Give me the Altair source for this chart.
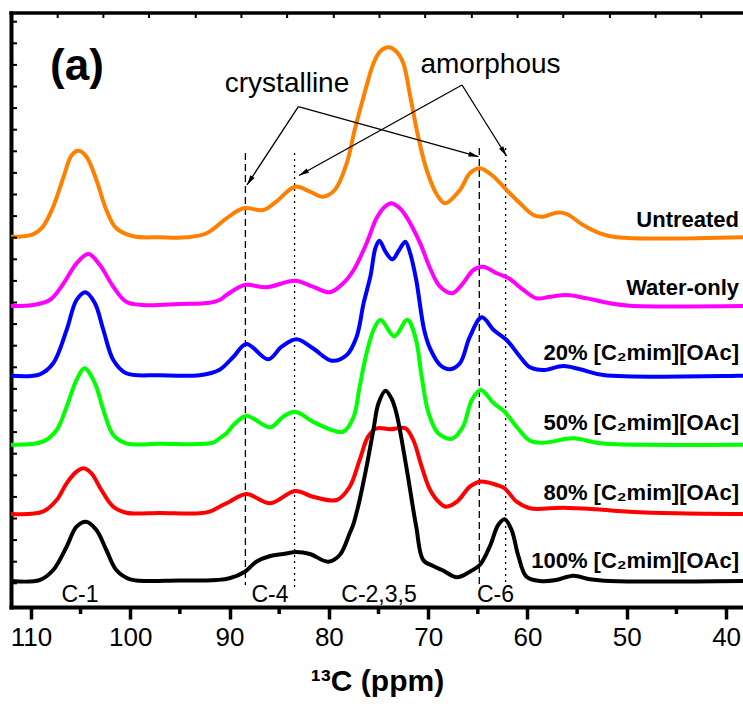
import math
import altair as alt
import pandas as pd

# ---------------- data ----------------
series_names = ["Untreated", "Water-only", "20% [C₂mim][OAc]",
                "50% [C₂mim][OAc]", "80% [C₂mim][OAc]", "100% [C₂mim][OAc]"]
series_colors = ["#FF8000", "#FF00FF", "#0000FF", "#00FF00", "#FF0000", "#000000"]
series_offsets = [369.7, 301.0, 231.3, 162.3, 93.0, 26.0]

untreated_ppm = [112.0, 109.8, 108.8, 107.75, 106.7, 105.9, 105.2, 104.4, 103.4, 102.4, 101.4, 99.7, 97.0,
                 94.3, 92.3, 90.3, 88.6, 86.6, 85.3, 83.4, 81.9, 80.6, 79.4, 78.2, 77.4, 76.5, 75.5, 74.86,
                 74.0, 73.18, 72.5, 71.8, 71.0, 70.15, 69.1, 68.3, 66.8, 65.8, 64.8, 63.6, 62.1, 60.75, 59.4,
                 58.4, 57.1, 56.05, 54.4, 52.7, 51.0, 38.3]
untreated_int = [0.5, 3, 10.6, 30.6, 60.6, 82, 86.6, 80.6, 57.3, 27.3, 9, 1, 0,
                 0, 4, 19, 29, 27.3, 35.6, 50.6, 45.6, 40.6, 47.3, 74, 107.3, 140.6, 174, 185.6,
                 190, 185.6, 174, 140.6, 100.6, 67.3, 42.3, 34, 47.3, 64, 69, 62.3, 47.3, 34, 22.3,
                 20.6, 24.6, 23.3, 12.3, 4, 0, 0]

water_ppm = [112.0, 109.8, 108.1, 106.7, 105.4, 104.2, 103.05, 101.7, 100.4, 98.7, 95.0, 92.0, 91.0, 90.3,
             88.45, 86.3, 83.4, 81.6, 79.9, 78.55, 77.5, 76.2, 75.2, 74.36, 73.7, 72.85, 72.2, 70.8, 69.8,
             68.8, 67.6, 66.5, 65.45, 64.45, 63.1, 61.9, 60.4, 59.1, 57.7, 56.05, 54.05, 51.7, 49.7, 38.3]
water_int = [0, 1, 6, 22.7, 42.7, 52, 41, 19.3, 4.3, 1, 2, 3.3, 6, 11,
             21, 18.7, 25.3, 19.3, 13.7, 22.7, 36, 62.7, 87.7, 99.3, 102.7, 97.7, 89.3, 62.7, 37.5,
             19.3, 12.7, 22.7, 36, 39.3, 32.7, 27.7, 16, 7.7, 9.3, 11, 7.7, 2.7, 0.3, 0]

il20_ppm = [112.0, 109.1, 107.75, 106.4, 105.4, 104.5, 103.55, 102.7, 101.7, 100.4, 97.0, 93.0, 91.0, 89.6,
            88.3, 86.1, 84.75, 83.25, 81.6, 79.7, 78.2, 77.2, 76.5, 75.8, 75.3, 74.9, 74.3, 73.6, 72.9,
            72.3, 71.8, 71.2, 70.4, 69.8, 68.8, 67.8, 66.8, 65.8, 64.6, 63.4, 62.1, 60.75, 59.75, 58.4,
            56.4, 54.7, 52.35, 38.3]
il20_int = [0, 1.4, 12.4, 45.7, 75.7, 83.4, 72.4, 45.7, 15.7, 2.4, 0.5, 0.5, 6, 19,
            31.7, 16.4, 29, 36.4, 27.4, 15, 20.7, 39, 72.4, 100, 128, 135, 124, 116.4, 126,
            134, 122, 95.7, 45.7, 27, 10.7, 6.4, 12.4, 39, 58.4, 45.7, 35.7, 19, 8.4, 5.7,
            9.7, 6.4, 0.7, 0]

il50_ppm = [112.0, 108.8, 107.4, 106.4, 105.4, 104.6, 103.55, 102.7, 101.7, 100.4, 97.0, 91.65, 91.0, 90.3,
            89.6, 88.3, 85.9, 84.6, 83.4, 81.6, 79.9, 78.55, 77.5, 76.9, 76.2, 75.5, 74.8, 73.4, 72.1,
            71.3, 70.65, 70.0, 69.0, 67.6, 66.5, 65.6, 64.7, 63.4, 62.3, 61.1, 59.75, 58.4, 55.4, 53.05,
            51.0, 38.3]
il50_int = [0, 3, 14.7, 38, 64.7, 76.4, 61.4, 34.7, 9.7, 1.4, 1, 2, 6.4, 11.4,
            19.7, 28.7, 17.4, 28, 33, 23, 15.4, 13, 28, 58, 91.4, 114.7, 125, 108.5, 125,
            108, 68, 33, 11.4, 6, 18, 44.7, 54.7, 41.4, 33, 18, 4, 2, 6.4, 2,
            0.4, 0]

il80_ppm = [112.0, 108.8, 107.4, 106.4, 105.4, 104.7, 103.9, 102.9, 101.7, 100.4, 97.0, 93.0, 92.0, 91.0,
            90.0, 88.3, 85.9, 83.4, 81.6, 79.2, 77.9, 76.9, 76.05, 75.2, 73.85, 72.3, 71.5, 70.65, 69.8,
            68.8, 68.2, 67.1, 65.8, 64.8, 63.1, 62.3, 61.1, 59.75, 56.4, 53.05, 49.7, 45.0, 38.3]
il80_int = [0, 2.3, 14, 30.7, 42.3, 45.7, 40.7, 24, 7.3, 1.3, 1, 0.7, 2.3, 7.3,
            12.3, 20, 10.7, 23, 17.3, 14, 27.3, 54, 77.3, 85.7, 84.7, 85.7, 74, 47.3, 24,
            10.7, 7.3, 12.3, 27.3, 32.3, 29, 25.7, 12.3, 5.7, 6.3, 4.7, 2.3, 0.7, 0]

il100_ppm = [112.0, 109.1, 107.75, 106.4, 105.4, 104.45, 103.4, 102.4, 101.4, 100.0, 95.0, 91.3, 90.0, 88.45,
             87.3, 85.9, 84.6, 83.25, 81.9, 80.05, 78.9, 77.9, 77.5, 76.9, 76.2, 75.5, 75.0, 74.3, 73.7,
             73.2, 72.2, 71.2, 70.5, 69.5, 68.6, 67.1, 65.8, 64.8, 63.8, 62.95, 62.3, 61.6, 60.9, 60.1,
             58.7, 57.1, 55.4, 53.7, 51.7, 38.3]
il100_int = [0, 1, 11, 34.3, 54.3, 59.3, 51, 31, 11, 1.7, 0.5, 1, 2.7, 9.3,
             19.3, 25, 27, 29, 27, 19.3, 26, 47.7, 57.7, 81, 114.3, 152, 177.7, 190.3, 182.7,
             168, 114.3, 54.3, 21, 15, 11, 3.7, 9.3, 16, 34.3, 56, 61.7, 51, 24.3, 4.3,
             0, 1, 5.3, 1.7, 0, 0]

series_ppm = [untreated_ppm, water_ppm, il20_ppm, il50_ppm, il80_ppm, il100_ppm]
series_int = [untreated_int, water_int, il20_int, il50_int, il80_int, il100_int]

# axis ticks
x_major = [110, 100, 90, 80, 70, 60, 50, 40]
x_minor = [105, 95, 85, 75, 65, 55, 45]
y_minor = [23.7 + 21.6 * k for k in range(27)]
top_minor = [107.3, 102.7, 98.1, 93.4, 88.8, 84.2, 79.5, 74.9, 70.3, 65.6, 61.0, 56.4, 51.7, 47.1, 42.5]

# annotation content
ref_dashed = [88.4, 64.85]
ref_dotted = [83.45, 62.2]
peak_labels = ["C-1", "C-4", "C-2,3,5", "C-6"]
peak_label_ppm = [105.05, 85.92, 74.95, 63.22]

# ---------------- layout ----------------
X_DOMAIN = [38.3, 112.0]
Y_DOMAIN = [0, 594]
W, H = 732, 594
PX = W / (X_DOMAIN[1] - X_DOMAIN[0])   # pixels per ppm
FONT = "Liberation Sans, Arial, sans-serif"

xs = alt.Scale(domain=X_DOMAIN, reverse=True, nice=False, zero=False)
ys = alt.Scale(domain=Y_DOMAIN, nice=False, zero=False)

# ---------------- spectra ----------------
line_layers = []
for name, col, off, ppm, inten in zip(series_names, series_colors, series_offsets, series_ppm, series_int):
    d = pd.DataFrame({"ppm": ppm, "y": [off + v for v in inten]})
    line_layers.append(
        alt.Chart(d).mark_line(color=col, strokeWidth=4, interpolate="catmull-rom", strokeJoin="round")
        .encode(
            x=alt.X("ppm:Q", scale=xs,
                    axis=alt.Axis(values=x_major, format="d", tickSize=12, tickWidth=3.5, tickColor="black",
                                  domainWidth=4, domainColor="black", domainCap="square",
                                  labelFontSize=26, labelFont=FONT, labelColor="black", labelPadding=5,
                                  labelFlush=False, labelOverlap=False, grid=False,
                                  title="¹³C (ppm)", titleFontSize=30, titleFont=FONT,
                                  titleFontWeight="bold", titleColor="black", titlePadding=16)),
            y=alt.Y("y:Q", scale=ys,
                    axis=alt.Axis(domainWidth=4, domainColor="black", domainCap="square", ticks=False,
                                  labels=False, title=None, grid=False)),
        )
    )

# ---------------- frame / ticks ----------------
top_line = alt.Chart(pd.DataFrame({"x": [X_DOMAIN[1]], "x2": [X_DOMAIN[0]], "y": [Y_DOMAIN[1]]})) \
    .mark_rule(color="black", strokeWidth=3.3, strokeCap="square") \
    .encode(x=alt.X("x:Q", scale=xs), x2="x2:Q", y=alt.Y("y:Q", scale=ys))

left_ticks = alt.Chart(pd.DataFrame({"y": y_minor, "x": [X_DOMAIN[1]] * len(y_minor),
                                     "x2": [X_DOMAIN[1] - 6 / PX] * len(y_minor)})) \
    .mark_rule(color="black", strokeWidth=2) \
    .encode(x=alt.X("x:Q", scale=xs), x2="x2:Q", y=alt.Y("y:Q", scale=ys))

top_ticks = alt.Chart(pd.DataFrame({"x": top_minor, "y": [Y_DOMAIN[1]] * len(top_minor),
                                    "y2": [Y_DOMAIN[1] - 5] * len(top_minor)})) \
    .mark_rule(color="black", strokeWidth=2) \
    .encode(x=alt.X("x:Q", scale=xs), y=alt.Y("y:Q", scale=ys), y2="y2:Q")

bottom_minor = alt.Chart(pd.DataFrame({"x": x_minor, "y": [0] * len(x_minor), "y2": [-7] * len(x_minor)})) \
    .mark_rule(color="black", strokeWidth=3.5) \
    .encode(x=alt.X("x:Q", scale=xs), y=alt.Y("y:Q", scale=ys), y2="y2:Q")

# ---------------- reference lines ----------------
dashed = alt.Chart(pd.DataFrame({"x": ref_dashed, "y": [454, 459], "y2": [22, 22]})) \
    .mark_rule(color="black", strokeWidth=1.3, strokeDash=[7, 4]) \
    .encode(x=alt.X("x:Q", scale=xs), y=alt.Y("y:Q", scale=ys), y2="y2:Q")
dotted = alt.Chart(pd.DataFrame({"x": ref_dotted, "y": [454, 459], "y2": [19, 22]})) \
    .mark_rule(color="black", strokeWidth=1.3, strokeDash=[2, 4]) \
    .encode(x=alt.X("x:Q", scale=xs), y=alt.Y("y:Q", scale=ys), y2="y2:Q")

# ---------------- arrows ----------------
arrow_x0 = [83.07, 83.07, 66.59, 66.59]
arrow_y0 = [500.3, 500.3, 522.0, 522.0]
arrow_x1 = [88.24, 64.93, 83.0, 62.11]
arrow_y1 = [422.0, 450.3, 431.5, 451.0]
angles = []
for a, b, c, d in zip(arrow_x0, arrow_y0, arrow_x1, arrow_y1):
    dxp = (a - c) * PX          # reversed axis: higher ppm is further left
    dyp = -(d - b)              # screen y grows downward
    angles.append(math.degrees(math.atan2(dxp, -dyp)) % 360)
arr = pd.DataFrame({"x": arrow_x0, "y": arrow_y0, "x2": arrow_x1, "y2": arrow_y1, "angle": angles})
arrow_lines = alt.Chart(arr).mark_rule(color="black", strokeWidth=1.3) \
    .encode(x=alt.X("x:Q", scale=xs), y=alt.Y("y:Q", scale=ys), x2="x2:Q", y2="y2:Q")
arrow_heads = alt.Chart(arr).mark_point(shape="M0,0L-0.5,2L0.5,2Z", filled=True, size=100, color="black",
                                        opacity=1, strokeWidth=0) \
    .encode(x=alt.X("x2:Q", scale=xs), y=alt.Y("y2:Q", scale=ys), angle=alt.Angle("angle:Q", scale=None))

# ---------------- texts ----------------
right_labels = alt.Chart(pd.DataFrame({
    "t": series_names, "x": [38.7] * 6,
    "y": [o + d for o, d in zip(series_offsets, [10, 11, 15.7, 14.7, 14, 12.7])]})) \
    .mark_text(align="right", baseline="alphabetic", font=FONT, fontSize=22, fontWeight="bold", color="black") \
    .encode(x=alt.X("x:Q", scale=xs), y=alt.Y("y:Q", scale=ys), text="t:N")

peak_text = alt.Chart(pd.DataFrame({"t": peak_labels, "x": peak_label_ppm, "y": [5] * 4})) \
    .mark_text(align="center", baseline="alphabetic", font=FONT, fontSize=23, color="black") \
    .encode(x=alt.X("x:Q", scale=xs), y=alt.Y("y:Q", scale=ys), text="t:N")

note_text = alt.Chart(pd.DataFrame({"t": ["crystalline", "amorphous"], "x": [84.21, 63.72], "y": [515, 533.7]})) \
    .mark_text(align="center", baseline="alphabetic", font=FONT, fontSize=28, color="black") \
    .encode(x=alt.X("x:Q", scale=xs), y=alt.Y("y:Q", scale=ys), text="t:N")

panel_text = alt.Chart(pd.DataFrame({"t": ["(a)"], "x": [108.07], "y": [527]})) \
    .mark_text(align="left", baseline="alphabetic", font=FONT, fontSize=44, fontWeight="bold", color="black") \
    .encode(x=alt.X("x:Q", scale=xs), y=alt.Y("y:Q", scale=ys), text="t:N")

chart = alt.layer(
    dashed, dotted, *line_layers, top_line, left_ticks, top_ticks, bottom_minor,
    arrow_lines, arrow_heads, right_labels, peak_text, note_text, panel_text
).properties(
    width=W, height=H,
    autosize=alt.AutoSizeParams(type="none"),
    padding={"left": 11, "top": 13, "right": 0, "bottom": 102},
    background="white",
).configure_view(stroke=None)

chart.save("out.html", embed_options={"renderer": "svg", "actions": False})
